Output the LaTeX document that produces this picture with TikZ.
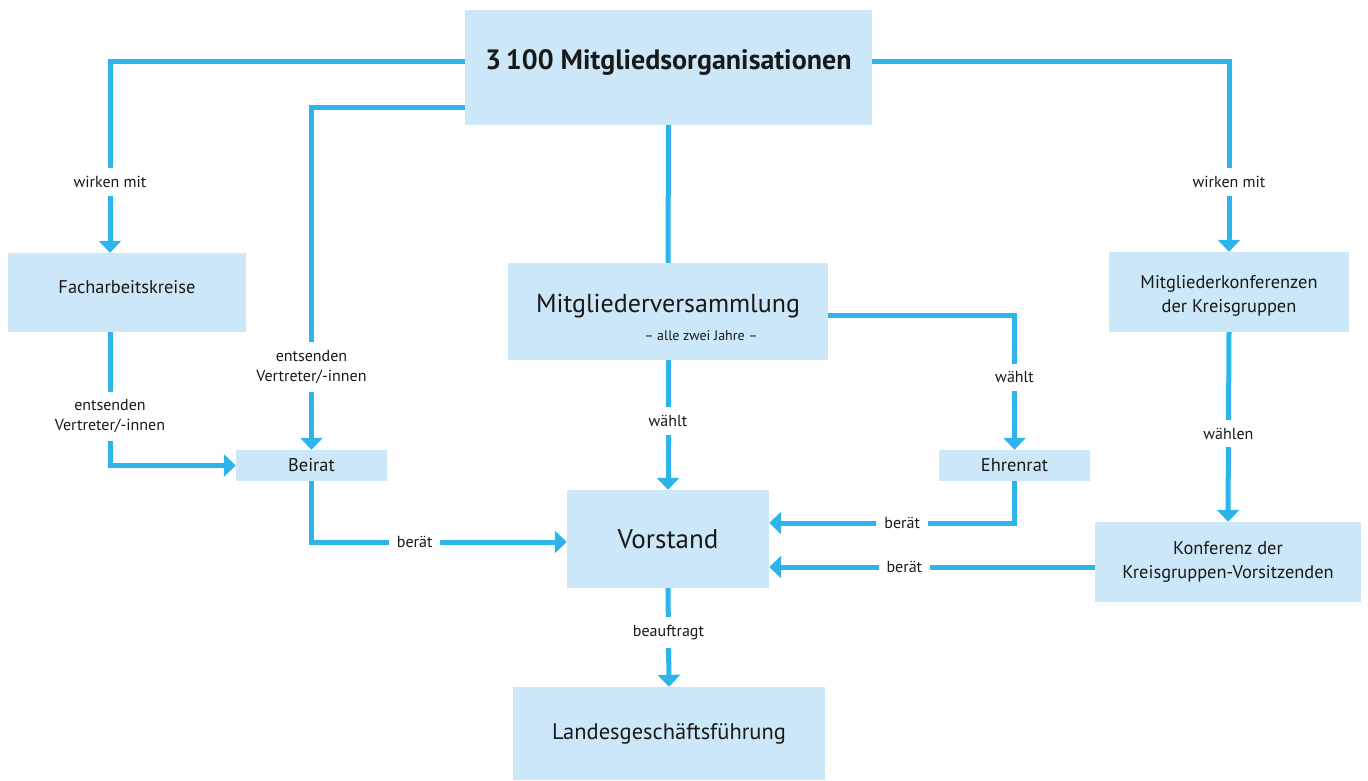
\documentclass[tikz,border=0pt]{standalone}
\usepackage{fontspec}
\setmainfont{PT Sans}
\usetikzlibrary{arrows.meta,positioning}
\definecolor{linieblau}{HTML}{2DB4EB}
\definecolor{kastenblau}{HTML}{CCE7F8}

\begin{document}
\begin{tikzpicture}[x=1pt,y=-1pt,
	kasten/.style={fill=kastenblau,inner sep=0pt,align=center,text=black!90},
	linie/.style={draw=linieblau,line width=5pt},
	pfeil/.style={linie,-{Triangle[width=22pt,length=12pt]}},
	beschr/.style={fill=white,inner sep=8pt,align=center,text=black!90,font=\fontsize{16}{20}\selectfont}]
		\useasboundingbox (0,0) rectangle (1368,780);
		
		% Kaesten
		\node[kasten,minimum width=407pt,minimum height=115pt,text depth=17pt,font=\fontsize{28}{32}\selectfont\bfseries] (org) at (668.5,67.5) {3\,100 Mitgliedsorganisationen};
		\node[kasten,minimum width=238pt,minimum height=79pt,text depth=11pt,font=\fontsize{18.4}{22}\selectfont] (fach) at (127,292.5) {Facharbeitskreise};
		\node[kasten,minimum width=151pt,minimum height=31pt,font=\fontsize{18.4}{22}\selectfont] (beirat) at (311.5,465.5) {Beirat};
		\node[kasten,minimum width=320pt,minimum height=97pt,text height=57pt,text depth=0pt,font=\fontsize{26}{32}\selectfont] (mv) at (668,311.5) {Mitgliederversammlung\\[-4pt] \hspace*{66pt}{\fontsize{14}{16}\selectfont -- alle zwei Jahre --}};
		\node[kasten,minimum width=151pt,minimum height=31pt,font=\fontsize{18.4}{22}\selectfont] (ehren) at (1014.5,465.5) {Ehrenrat};
		\node[kasten,minimum width=202pt,minimum height=98pt,font=\fontsize{27}{32}\selectfont] (vorstand) at (668,539) {Vorstand};
		\node[kasten,minimum width=240pt,minimum height=80pt,text height=45pt,text depth=4pt,font=\fontsize{18.4}{24}\selectfont] (mk) at (1229,292) {Mitgliederkonferenzen\\der Kreisgruppen};
		\node[kasten,minimum width=266pt,minimum height=80pt,font=\fontsize{18.4}{24}\selectfont] (konf) at (1228,562) {Konferenz der\\Kreisgruppen-Vorsitzenden};
		\node[kasten,minimum width=312pt,minimum height=93pt,font=\fontsize{22.5}{26}\selectfont] (lgf) at (669,733.5) {Landesgeschäftsführung};
		
		% Verbindungen
		\draw[pfeil] ([yshift=6pt]org.west) -| node[beschr,pos=0.815] {wirken mit} ([xshift=-17pt]fach.north);
		\draw[pfeil] ([yshift=-40pt]org.west) -| node[beschr,pos=0.879] {entsenden\\Vertreter/-innen} (beirat.north);
		\draw[linie] (org.south) -- (mv.north);
		\draw[pfeil] ([yshift=6pt]org.east) -| node[beschr,pos=0.817] {wirken mit} (mk.north);
		\draw[pfeil] ([xshift=-17pt]fach.south) |- node[beschr,pos=0.316] {entsenden\\Vertreter/-innen} (beirat.west);
		\draw[pfeil] (beirat.south) |- node[beschr,pos=0.702] {berät} ([yshift=-3pt]vorstand.west);
		\draw[pfeil] (mv.south) -- node[beschr,pos=0.47] {wählt} (vorstand.north);
		\draw[pfeil] ([yshift=-4pt]mv.east) -| node[beschr,pos=0.73] {wählt} (ehren.north);
		\draw[pfeil] (ehren.south) |- node[beschr,pos=0.729] {berät} ([yshift=16pt]vorstand.east);
		\draw[pfeil] (mk.south) -- node[beschr,pos=0.535] {wählen} (konf.north);
		\draw[pfeil] ([yshift=-5pt]konf.west) -- node[beschr,pos=0.585] {berät} ([yshift=-28pt]vorstand.east);
		\draw[pfeil] (vorstand.south) -- node[beschr,pos=0.45] {beauftragt} (lgf.north);
\end{tikzpicture}
\end{document}
